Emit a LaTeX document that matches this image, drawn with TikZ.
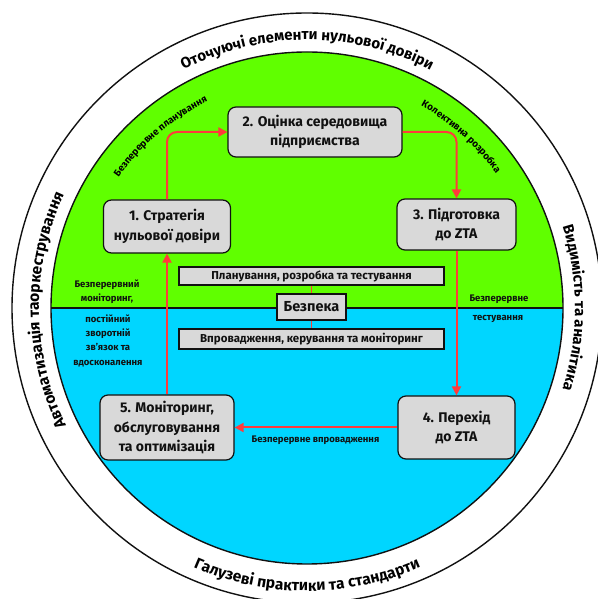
\documentclass[tikz,border=0pt]{standalone}
\usepackage{fontspec}
\setmainfont{Fira Sans}
\usetikzlibrary{arrows.meta,calc,decorations.text}
\definecolor{zonegreen}{HTML}{60FF00}
\definecolor{zoneblue}{HTML}{00D6FF}
\definecolor{boxgray}{HTML}{D9D9D9}
\definecolor{flowred}{HTML}{FF3B3B}
\definecolor{ink}{HTML}{111111}
\tikzset{
  stage/.style={draw=ink, line width=1.2pt, fill=boxgray, rounded corners=8pt,
    align=center, text=ink, font=\bfseries\fontsize{14}{19.5}\selectfont, inner sep=2pt},
  band/.style={draw=ink, line width=1.2pt, fill=boxgray, align=center, text=ink,
    font=\bfseries\fontsize{11.5}{13}\selectfont, inner sep=1pt, minimum width=265pt},
  flow/.style={draw=flowred, line width=2pt, -{Triangle[length=9pt,width=9pt]}, rounded corners=10pt},
  link/.style={draw=flowred, line width=1.5pt},
  note/.style={align=center, text=ink, font=\bfseries\fontsize{9.5}{14.3}\selectfont, inner sep=0pt},
  ringtext/.style={decorate, decoration={text along path, text align=center, text={#1}}}
}
\begin{document}
\begin{tikzpicture}[x=1pt,y=1pt]
\useasboundingbox (0,0) rectangle (597,599);
\coordinate (C) at (307,291);

% outer ring
\draw[ink, line width=1.4pt] (C) circle[radius=295];

% two halves of the inner disc
\fill[zonegreen] ($(C)+(256,0)$) arc[start angle=0, end angle=180, radius=256] -- cycle;
\fill[zoneblue] ($(C)+(-256,0)$) arc[start angle=180, end angle=360, radius=256] -- cycle;
\draw[ink, line width=1.4pt] (C) circle[radius=256];
\draw[ink, line width=1.4pt] ($(C)+(-256,0)$) -- ($(C)+(256,0)$);

% texts along the ring
\path[ringtext={|\bfseries\fontsize{15}{17}\selectfont|Оточуючі елементи нульової довіри}]
  ($(C)+(150:268)$) arc[start angle=150, end angle=30, radius=268];
\path[ringtext={|\bfseries\fontsize{15.5}{17}\selectfont|Автоматизація таоркестрування}]
  ($(C)+(240.5:268)$) arc[start angle=240.5, end angle=120.5, radius=268];
\path[ringtext={|\bfseries\fontsize{15}{17}\selectfont|Видимість та аналітика}]
  ($(C)+(60:268)$) arc[start angle=60, end angle=-60, radius=268];
\path[ringtext={|\bfseries\fontsize{15.5}{17}\selectfont|Галузеві практики та стандарти}]
  ($(C)+(210:283)$) arc[start angle=210, end angle=330, radius=283];

% texts along the inner arc
\path[ringtext={|\bfseries\fontsize{9.8}{11}\selectfont|Безперервне планування}]
  ($(C)+(160.5:229)$) arc[start angle=160.5, end angle=100.5, radius=229];
\path[ringtext={|\bfseries\fontsize{9.8}{11}\selectfont|Колективна розробка}]
  ($(C)+(78:232)$) arc[start angle=78, end angle=18, radius=232];

% stages
\node[stage, minimum width=174pt, minimum height=50pt] (s2) at (315,467) {2. Оцінка середовища\\підприємства};
\node[stage, minimum width=127pt, minimum height=53pt] (s1) at (167,372.5) {1. Стратегія\\нульової довіри};
\node[stage, minimum width=119pt, minimum height=51pt] (s3) at (456.5,374.5) {3. Підготовка\\до ZTA};
\node[stage, minimum width=117pt, minimum height=63pt] (s4) at (456.5,171.5) {4. Перехід\\до ZTA};
\node[stage, minimum width=134pt, minimum height=65pt] (s5) at (167,171.5) {5. Моніторинг,\\обслуговування\\та оптимізація};

% central bands
\node[band, minimum height=18pt] (plan) at (311.5,323) {Планування, розробка та тестування};
\node[band, minimum width=69pt, minimum height=26pt, font=\bfseries\fontsize{14.5}{16}\selectfont] (sec) at (311.5,292) {Безпека};
\node[band, minimum height=20pt] (oper) at (311.5,260) {Впровадження, керування та моніторинг};
\draw[link] (plan.south) -- (sec.north);
\draw[link] (sec.south) -- (oper.north);

% cycle
\draw[flow] (s1.north) |- (s2.west);
\draw[flow] (s2.east) -| (s3.north);
\draw[flow] (s3.south) -- (s4.north);
\draw[flow] (s4.west) -- (s5.east);
\draw[flow] (s5.north) -- (s1.south);

% side notes
\node[note] (n1) at (107,307) {Безперервний\\моніторинг,};
\node[note] (n2) at (108,258.5) {постійний\\зворотній\\зв'язок та\\вдосконалення};
\node[note] (n3) at (499,300) {Безперервне};
\node[note] (n4) at (498,280) {тестування};
\node[note] (n5) at (315.5,159) {Безперервне впровадження};
\end{tikzpicture}
\end{document}
